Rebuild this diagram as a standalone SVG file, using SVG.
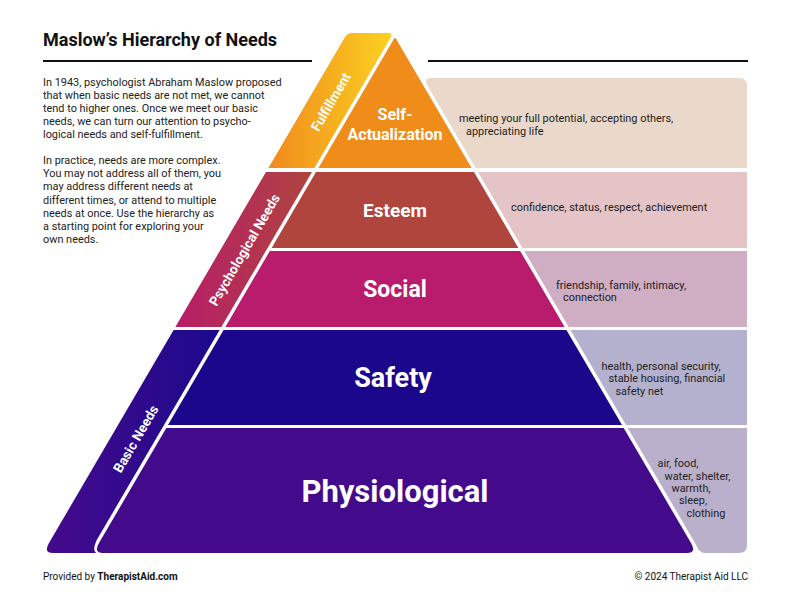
<svg xmlns="http://www.w3.org/2000/svg" width="792" height="612" viewBox="0 0 792 612">
<defs>
<linearGradient id="gFul" gradientUnits="userSpaceOnUse" x1="268" y1="0" x2="394" y2="0">
<stop offset="0" stop-color="#EF8A1C"/><stop offset="1" stop-color="#FDD221"/>
</linearGradient>
<linearGradient id="gPsy" gradientUnits="userSpaceOnUse" x1="175" y1="0" x2="312" y2="0">
<stop offset="0" stop-color="#B81D68"/><stop offset="1" stop-color="#AE4440"/>
</linearGradient>
<linearGradient id="gBas" gradientUnits="userSpaceOnUse" x1="43" y1="0" x2="220" y2="0">
<stop offset="0" stop-color="#460A8C"/><stop offset="1" stop-color="#1C098D"/>
</linearGradient>
<style>
.t{font-family:Roboto,"Liberation Sans",Arial,sans-serif}
.body{font-size:10.9px;fill:#222}
.desc{font-size:10.9px;fill:#222}
.lbl{font-weight:700;fill:#fff;text-anchor:middle}
.band{font-size:13.5px;font-weight:700;fill:#fff;text-anchor:middle}
.rule{stroke:#111;stroke-width:1.8}
</style>
</defs>
<rect width="792" height="612" fill="#fff"/>

<g id="title" class="t">
<text x="43" y="46" font-size="18" font-weight="700" fill="#111">Maslow’s Hierarchy of Needs</text>
<line class="rule" x1="43" y1="61" x2="312" y2="61"/>
<line class="rule" x1="428" y1="61" x2="748" y2="61"/>
</g>

<g id="intro" class="t body">
<text x="43" y="86">In 1943, psychologist Abraham Maslow proposed</text>
<text x="43" y="99">that when basic needs are not met, we cannot</text>
<text x="43" y="112">tend to higher ones. Once we meet our basic</text>
<text x="43" y="125">needs, we can turn our attention to psycho-</text>
<text x="43" y="138">logical needs and self-fulfillment.</text>
<text x="43" y="164">In practice, needs are more complex.</text>
<text x="43" y="177">You may not address all of them, you</text>
<text x="43" y="190">may address different needs at</text>
<text x="43" y="204">different times, or attend to multiple</text>
<text x="43" y="217">needs at once. Use the hierarchy as</text>
<text x="43" y="230">a starting point for exploring your</text>
<text x="43" y="243">own needs.</text>
</g>

<g id="band-fulfillment">
<path d="M268.4,168 L344.4,38 Q347.3,33 352.3,33 L388.3,33 Q393.3,33 390.4,38 L314.4,168 Z" fill="url(#gFul)"/>
<text class="t band" transform="translate(331,102) rotate(-59.7)" y="4.5">Fulfillment</text>
</g>
<g id="band-psychological">
<path d="M266,172 L312,172 L221.35,327 L175.35,327 Z" fill="url(#gPsy)"/>
<text class="t band" transform="translate(244.5,250) rotate(-59.7)" y="4.5">Psychological Needs</text>
</g>
<g id="band-basic">
<path d="M173.6,330 L219.6,330 L96.74,540 Q92,550 96,553 L53.1,553 Q43.1,553 48.99,543 Z" fill="url(#gBas)"/>
<text class="t band" transform="translate(136,439) rotate(-59.7)" y="4.5">Basic Needs</text>
</g>

<g id="self-actualization">
<path d="M392.7,41 Q395,35 397.3,41 L471.6,168 L318.4,168 Z" fill="#EF8C1A"/>
<path d="M427.7,86 Q423,78 431,78 L739,78 Q747,78 747,86 L747,168 L475.6,168 Z" fill="#EAD9CB"/>
<text class="t lbl" x="395" y="120" font-size="16">Self-</text>
<text class="t lbl" x="395" y="140" font-size="16">Actualization</text>
<text class="t desc" x="459" y="122">meeting your full potential, accepting others,</text>
<text class="t desc" x="466" y="134.5">appreciating life</text>
</g>

<g id="esteem">
<path d="M316,172 L474,172 L518.4,248 L271.6,248 Z" fill="#AF453D"/>
<path d="M478,172 L747,172 L747,248 L522.4,248 Z" fill="#E4C4C6"/>
<text class="t lbl" x="395" y="216.5" font-size="19">Esteem</text>
<text class="t desc" x="511" y="211">confidence, status, respect, achievement</text>
</g>

<g id="social">
<path d="M269.8,251 L520.2,251 L564.65,327 L225.35,327 Z" fill="#B91C6C"/>
<path d="M524.2,251 L747,251 L747,327 L568.65,327 Z" fill="#CFADC2"/>
<text class="t lbl" x="395" y="297" font-size="23">Social</text>
<text class="t desc" x="556" y="288.5">friendship, family, intimacy,</text>
<text class="t desc" x="563" y="301">connection</text>
</g>

<g id="safety">
<path d="M223.6,330 L566.4,330 L622,425 L168,425 Z" fill="#1B078C"/>
<path d="M570.4,330 L747,330 L747,425 L626,425 Z" fill="#B4B1CF"/>
<text class="t lbl" x="393" y="387" font-size="27">Safety</text>
<text class="t desc" x="601.5" y="369.5">health, personal security,</text>
<text class="t desc" x="608.5" y="382">stable housing, financial</text>
<text class="t desc" x="615.5" y="395">safety net</text>
</g>

<g id="physiological">
<path d="M166.3,428 L623.7,428 L691,543 Q696.9,553 686.9,553 L103.1,553 Q93.1,553 99,543 Z" fill="#430B8B"/>
<path d="M627.7,428 L747,428 L747,545 Q747,553 739,553 L705,553 Q699,553 696.2,545 Z" fill="#BAB0CC"/>
<text class="t lbl" x="395" y="502" font-size="31">Physiological</text>
<text class="t desc" x="657.5" y="467">air, food,</text>
<text class="t desc" x="664.5" y="479.5">water, shelter,</text>
<text class="t desc" x="671.5" y="492">warmth,</text>
<text class="t desc" x="679" y="504">sleep,</text>
<text class="t desc" x="686.5" y="517">clothing</text>
</g>

<g id="footer" class="t" font-size="10" fill="#111">
<text x="43" y="580">Provided by <tspan font-weight="700">TherapistAid.com</tspan></text>
<text x="748" y="580" text-anchor="end">© 2024 Therapist Aid LLC</text>
</g>
</svg>
